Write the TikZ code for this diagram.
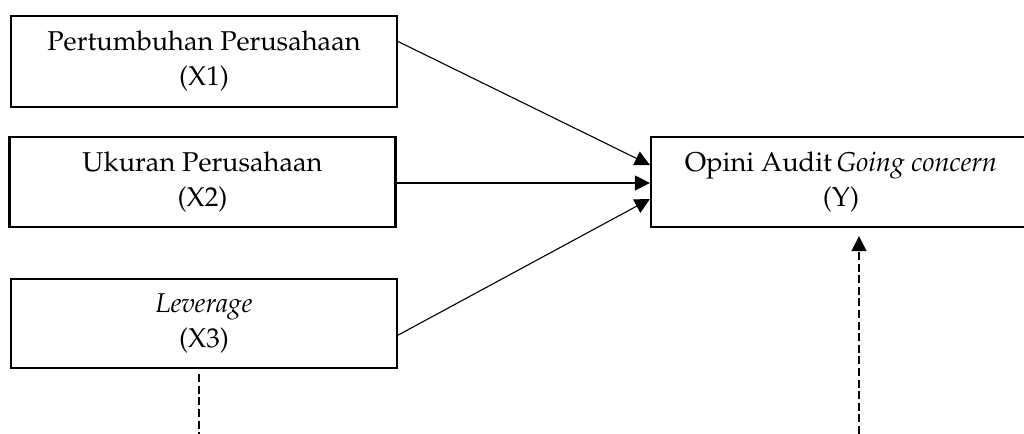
\documentclass[tikz,border=0pt]{standalone}
\usepackage[T1]{fontenc}
\usepackage{mathpazo}
\usetikzlibrary{arrows.meta}
\begin{document}
\begin{tikzpicture}[x=0.5pt,y=-0.5pt,
  box/.style={draw,line width=1.1pt,inner sep=0pt,align=center,font=\fontsize{13.6}{17.5}\selectfont},
  conn/.style={line width=0.55pt,-{Triangle[length=7.5pt,width=7.5pt]}},
  dashconn/.style={line width=0.55pt,dash pattern=on 4pt off 1.8pt}]
\useasboundingbox (0,0) rectangle (1024,434);
\node[box,minimum width=193pt,minimum height=45.5pt] (x1) at (204,61.5) {Pertumbuhan Perusahaan\\(X1)};
\node[box,minimum width=193pt,minimum height=45pt] (x2) at (202.5,182) {Ukuran Perusahaan\\(X2)};
\node[box,minimum width=193pt,minimum height=44.5pt] (x3) at (204,323.5) {\textit{Leverage}\\(X3)};
\node[box,minimum width=190pt,minimum height=45pt] (y) at (841,182) {Opini Audit\,\textit{Going concern}\\(Y)};
\coordinate (d1) at (199,434);
\coordinate (d2) at (859,434);
\draw[conn] ([yshift=10pt]x1.east) -- ([yshift=8.5pt]y.west);
\draw[conn] ([yshift=-0.5pt]x2.east) -- ([yshift=-0.5pt]y.west);
\draw[conn] ([yshift=-5.8pt]x3.east) -- ([yshift=-8.5pt]y.west);
\draw[dashconn] ([xshift=-2.5pt,yshift=-2.5pt]x3.south) -- (d1);
\draw[dashconn,-{Triangle[length=7.5pt,width=7.5pt]}] (d2) -- ([xshift=9pt,yshift=-4pt]y.south);
\end{tikzpicture}
\end{document}
